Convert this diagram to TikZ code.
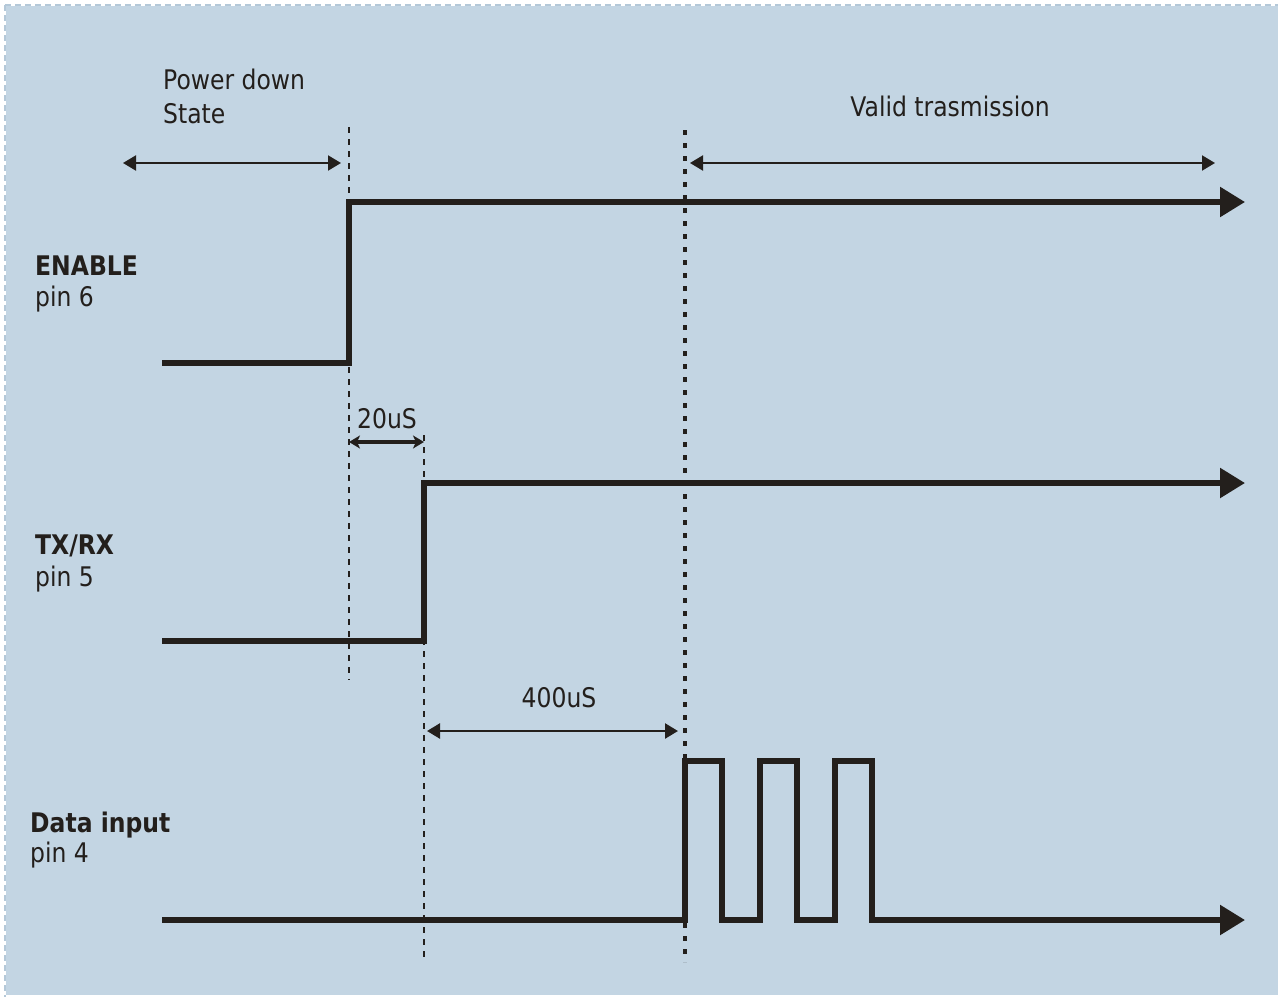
\documentclass[tikz,border=0pt]{standalone}
\usepackage{fontspec}
\setmainfont{DejaVu Sans}[FakeStretch=0.87]
\usetikzlibrary{arrows.meta}
\definecolor{bg}{HTML}{C3D5E3}
\definecolor{ink}{HTML}{231F1C}
\definecolor{rim}{HTML}{B4C8D8}
\begin{document}
\begin{tikzpicture}[x=1pt,y=-1pt,
  sig/.style={ink, line width=5.5pt, line join=miter, -{Triangle[length=25pt,width=29pt]}},
  dimarrow/.style={ink, line width=2.5pt, {Triangle[length=13pt,width=15pt]}-{Triangle[length=13pt,width=15pt]}},
  shortarrow/.style={ink, line width=3.5pt, {Stealth[length=11pt,width=13pt,inset=3pt]}-{Stealth[length=11pt,width=13pt,inset=3pt]}},
  thindash/.style={ink, line width=1.7pt, dash pattern=on 6pt off 6pt},
  thickdash/.style={ink, line width=3.5pt, dash pattern=on 5pt off 8pt},
  lbl/.style={inner sep=0pt, text=ink, font=\fontsize{27}{34}\selectfont},
  blbl/.style={inner sep=0pt, text=ink, font=\fontsize{27}{34}\selectfont\bfseries}]
\useasboundingbox (0,0) rectangle (1278,997);
\fill[white] (0,0) rectangle (1278,997);
\fill[bg] (6,6) rectangle (1278,995);
\draw[rim, line width=1.5pt, dash pattern=on 6pt off 4pt] (5,5) -- (1278,5);
\draw[rim, line width=1.5pt, dash pattern=on 6pt off 4pt] (5,5) -- (5,997);

% guide coordinates
\coordinate (e0) at (162,363); \coordinate (e1) at (349,363); \coordinate (e2) at (349,202); \coordinate (e3) at (1245,202);
\coordinate (t0) at (162,641); \coordinate (t1) at (424,641); \coordinate (t2) at (424,483); \coordinate (t3) at (1245,483);
\coordinate (d0) at (162,920); \coordinate (d9) at (1245,920);

% dashed markers
\coordinate (ma) at (349,127); \coordinate (mb) at (349,680);
\coordinate (mc) at (424,435); \coordinate (md) at (424,962);
\coordinate (me) at (685,130); \coordinate (mf) at (685,962);
\draw[thindash] (ma) -- (mb);
\draw[thindash] (mc) -- (md);
\draw[thickdash] (me) -- (mf);

% signals
\draw[sig] (e0) -- (e1) -- (e2) -- (e3);
\draw[sig] (t0) -- (t1) -- (t2) -- (t3);
\draw[sig] (d0) -- (685,920) -- (685,761) -- (722,761) -- (722,920) -- (760,920) -- (760,761)
  -- (797,761) -- (797,920) -- (835,920) -- (835,761) -- (872,761) -- (872,920) -- (d9);

% dimension arrows
\coordinate (pa) at (123,163); \coordinate (pb) at (341,163);
\coordinate (va) at (690,163); \coordinate (vb) at (1215,163);
\coordinate (ta) at (349,442); \coordinate (tb) at (424,442);
\coordinate (fa) at (427,731); \coordinate (fb) at (678,731);
\draw[dimarrow, line width=2pt] (pa) -- (pb);
\draw[dimarrow, line width=2pt] (va) -- (vb);
\draw[shortarrow] (ta) -- (tb);
\draw[dimarrow] (fa) -- (fb);

% texts
\node[lbl, anchor=base west] (pd1) at (163,89) {Power down};
\node[lbl, anchor=base west] (pd2) at (163,123) {State};
\node[lbl, anchor=base] (valid) at (950,116) {Valid trasmission};
\node[lbl, anchor=base] (t20) at (387,428) {20uS};
\node[lbl, anchor=base] (t400) at (559,707) {400uS};
\node[blbl, anchor=base west] (en) at (35,275) {ENABLE};
\node[lbl, anchor=base west] (en6) at (35,306) {pin 6};
\node[blbl, anchor=base west] (tx) at (35,554) {TX/RX};
\node[lbl, anchor=base west] (tx5) at (35,586) {pin 5};
\node[blbl, anchor=base west] (di) at (30,832) {Data input};
\node[lbl, anchor=base west] (di4) at (30,862) {pin 4};
\end{tikzpicture}
\end{document}
